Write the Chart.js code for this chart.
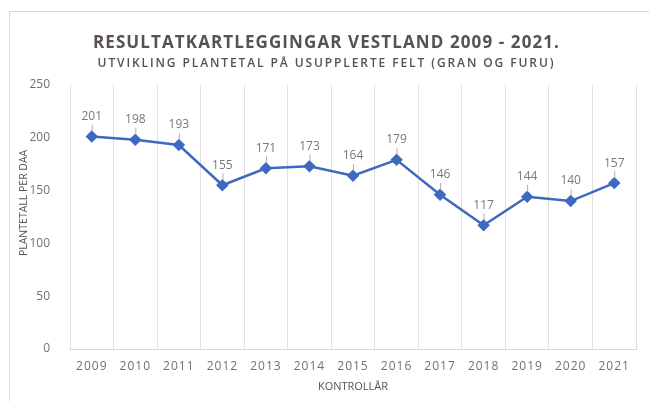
<!DOCTYPE html>
<html><head><meta charset="utf-8">
<script src="https://cdn.jsdelivr.net/npm/chart.js@4"></script>
<style>
html,body{margin:0;padding:0;background:#fff;overflow:hidden;}
#wrap{position:relative;width:649px;height:401px;}
#frame{position:absolute;left:9px;top:11px;width:650px;height:400px;border-top:1px solid #ddd8d8;border-left:1px solid #ddd8d8;}
canvas{position:absolute;left:0;top:0;}
</style></head><body>
<div id="wrap"><div id="frame"></div><canvas id="c" width="649" height="401"></canvas></div>
<script>
const years = ['2009','2010','2011','2012','2013','2014','2015','2016','2017','2018','2019','2020','2021'];
const plantetal = [201,198,193,155,171,173,164,179,146,117,144,140,157];
const yMin = 0, yMax = 250, yStep = 50;
const titleText = 'RESULTATKARTLEGGINGAR VESTLAND 2009 - 2021.';
const subtitleText = 'UTVIKLING PLANTETAL PÅ USUPPLERTE FELT (GRAN OG FURU)';
const yTitle = 'PLANTETALL PER DAA';
const xTitle = 'KONTROLLÅR';

function wrapDraw(chart, obj, key, spacing, dx, dy) {
  if (!obj || obj['_wr_' + key]) return;
  const orig = obj[key];
  obj[key] = function (...args) {
    const c = chart.ctx;
    c.save();
    c.letterSpacing = spacing;
    if (dx || dy) c.translate(dx || 0, dy || 0);
    const r = orig.apply(this, args);
    c.restore();
    return r;
  };
  obj['_wr_' + key] = true;
}

const spacingPlugin = {
  id: 'spacing',
  afterLayout(chart) {
    chart.boxes.forEach(b => {
      if (b.options && b.options.text === titleText) wrapDraw(chart, b, 'draw', '1.1px', 4, 0);
      if (b.options && b.options.text === subtitleText) wrapDraw(chart, b, 'draw', '1.9px', 4, 0);
    });
    const x = chart.scales.x, y = chart.scales.y;
    wrapDraw(chart, x, 'drawLabels', '1px');
    wrapDraw(chart, x, 'drawTitle', '0px');
    wrapDraw(chart, y, 'drawLabels', '0px');
    wrapDraw(chart, y, 'drawTitle', '0px', 0, -14);
  }
};
const labelPlugin = {
  id: 'vlabels',
  afterDatasetsDraw(chart){
    const ctx = chart.ctx;
    const meta = chart.getDatasetMeta(0);
    ctx.save();
    ctx.letterSpacing = '0px';
    ctx.font = '12px "Open Sans"';
    ctx.fillStyle = '#7d7676';
    ctx.textAlign = 'center';
    ctx.textBaseline = 'middle';
    ctx.strokeStyle = '#b5afaf';
    ctx.lineWidth = 1;
    meta.data.forEach((pt, i) => {
      const v = chart.data.datasets[0].data[i];
      ctx.fillText(String(v), pt.x, pt.y - 20);
      ctx.beginPath();
      ctx.moveTo(pt.x + 0.5, pt.y - 12);
      ctx.lineTo(pt.x + 0.5, pt.y - 5);
      ctx.stroke();
    });
    ctx.restore();
  }
};

new Chart(document.getElementById('c'), {
  type: 'line',
  data: {
    labels: years,
    datasets: [{
      data: plantetal,
      borderColor: '#3d69c0',
      backgroundColor: '#3d69c0',
      borderWidth: 2.5,
      pointStyle: 'rectRot',
      pointRadius: 4.5,
      pointHoverRadius: 4.5,
      tension: 0
    }]
  },
  options: {
    responsive: false,
    devicePixelRatio: 1,
    animation: false,
    layout: { padding: { left: 9, right: 13, top: 0, bottom: 8 } },
    plugins: {
      legend: { display: false },
      tooltip: { enabled: false },
      title: {
        display: true, text: titleText, color: '#575151',
        font: { family: '"Open Sans"', size: 17, weight: 'bold' },
        padding: { top: 33, bottom: 0 }
      },
      subtitle: {
        display: true, text: subtitleText, color: '#575151',
        font: { family: '"Open Sans"', size: 12, weight: '600' },
        padding: { top: 3, bottom: 14 }
      }
    },
    scales: {
      x: {
        type: 'category',
        offset: true,
        grid: { offset: true, color: '#e3dfdf', drawTicks: false },
        border: { color: '#dcd8d8', width: 1 },
        ticks: { color: '#766e6e', font: { family: '"Open Sans"', size: 12 }, padding: 10, maxRotation: 0, autoSkip: false },
        title: { display: true, text: xTitle, color: '#5a5252', font: { family: '"Open Sans"', size: 11 }, padding: { top: 0, bottom: 0 } },
        afterFit(s){ s.height = 44; }
      },
      y: {
        min: yMin, max: yMax,
        grid: { display: false },
        border: { display: false },
        ticks: { stepSize: yStep, color: '#766e6e', font: { family: '"Open Sans"', size: 12 }, padding: 12 },
        title: { display: true, text: yTitle, color: '#5a5252', font: { family: '"Liberation Sans Narrow", "Open Sans"', size: 10.5 }, padding: { top: 9, bottom: 0 } },
        afterFit(s){ s.width = 61; }
      }
    }
  },
  plugins: [spacingPlugin, labelPlugin]
});
</script>
</body></html>
